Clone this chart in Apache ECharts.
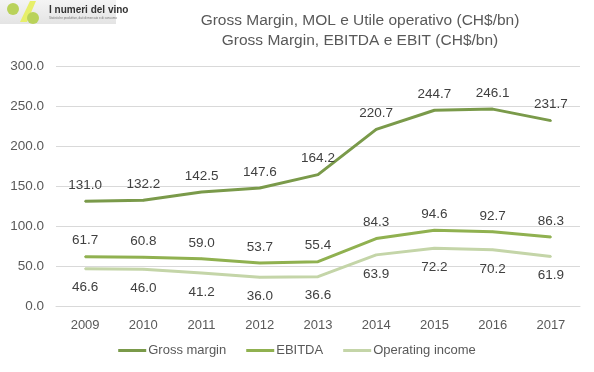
<!DOCTYPE html>
<html><head><meta charset="utf-8">
<script src="https://cdn.jsdelivr.net/npm/echarts@6/dist/echarts.min.js"></script>
<style>html,body{margin:0;padding:0;background:#fff}#c{width:594px;height:372px}</style>
</head><body><div id="c"></div>
<script>
const years = ['2009','2010','2011','2012','2013','2014','2015','2016','2017'];
const grossMargin = [131.0,132.2,142.5,147.6,164.2,220.7,244.7,246.1,231.7];
const ebitda = [61.7,60.8,59.0,53.7,55.4,84.3,94.6,92.7,86.3];
const operatingIncome = [46.6,46.0,41.2,36.0,36.6,63.9,72.2,70.2,61.9];
const titleLines = ['Gross Margin, MOL e Utile operativo (CH$/bn)','Gross Margin, EBITDA e EBIT (CH$/bn)'];

const chart = echarts.init(document.getElementById('c'));
const font = 'Liberation Sans';
function mk(name, data, color, pos, dist) {
  return {
    name, type: 'line', data, symbol: 'circle', symbolSize: 2, showSymbol: true,
    lineStyle: {color, width: 3}, itemStyle: {color},
    label: {show: true, position: pos, distance: dist, color: '#404040', fontSize: 13.5, fontFamily: font,
      formatter: p => Number(p.value).toFixed(1)}
  };
}
chart.setOption({
  animation: false,
  title: {
    text: titleLines.join('\n'), left: 355, top: 6, textAlign: 'center',
    textStyle: {color: '#595959', fontSize: 15.5, fontWeight: 'normal', fontFamily: font, lineHeight: 20}
  },
  graphic: [
    {type: 'rect', shape: {x: 0, y: 0, width: 116, height: 24}, style: {fill: new echarts.graphic.LinearGradient(0,0,0,1,[{offset:0,color:'#f4f4f4'},{offset:1,color:'#e4e4e4'}])}},
    {type: 'polygon', shape: {points: [[20,22],[27,22],[36,1],[30,1]]}, style: {fill: '#e7ef6a'}},
    {type: 'circle', shape: {cx: 13, cy: 9, r: 6}, style: {fill: '#b9d25a'}},
    {type: 'circle', shape: {cx: 33, cy: 18, r: 6}, style: {fill: '#b9d25a'}},
    {type: 'text', left: 49, top: 5, style: {text: 'I numeri del vino', fill: '#333', fontSize: 10, fontFamily: font, fontWeight: 'bold'}},
    {type: 'text', left: 49, top: 17, style: {text: 'Statistiche produttive, dati di mercato e di consumo', fill: '#777', fontSize: 3, fontFamily: font}}
  ],
  legend: {
    bottom: 10, left: 'center', itemWidth: 28, itemHeight: 3, itemGap: 20, icon: 'rect',
    textStyle: {color: '#595959', fontSize: 13, fontFamily: font, padding: [0,0,0,-3]},
    data: ['Gross margin','EBITDA','Operating income']
  },
  grid: {left: 56, right: 14, top: 66, bottom: 66},
  xAxis: {
    type: 'category', data: years, boundaryGap: true,
    axisLine: {show: true, lineStyle: {color: '#d9d9d9'}}, axisTick: {show: false},
    axisLabel: {color: '#595959', fontSize: 13, fontFamily: font, margin: 13}
  },
  yAxis: {
    type: 'value', min: 0, max: 300, interval: 50,
    axisLabel: {color: '#595959', fontSize: 13.5, fontFamily: font, formatter: v => v.toFixed(1), margin: 12},
    splitLine: {lineStyle: {color: '#d9d9d9'}}, axisLine: {show: false}, axisTick: {show: false}
  },
  series: [
    mk('Gross margin', grossMargin, '#7a9a4a', 'top', 8),
    mk('EBITDA', ebitda, '#90b150', 'top', 8),
    mk('Operating income', operatingIncome, '#c4d5a8', 'bottom', 11)
  ]
});
</script></body></html>
